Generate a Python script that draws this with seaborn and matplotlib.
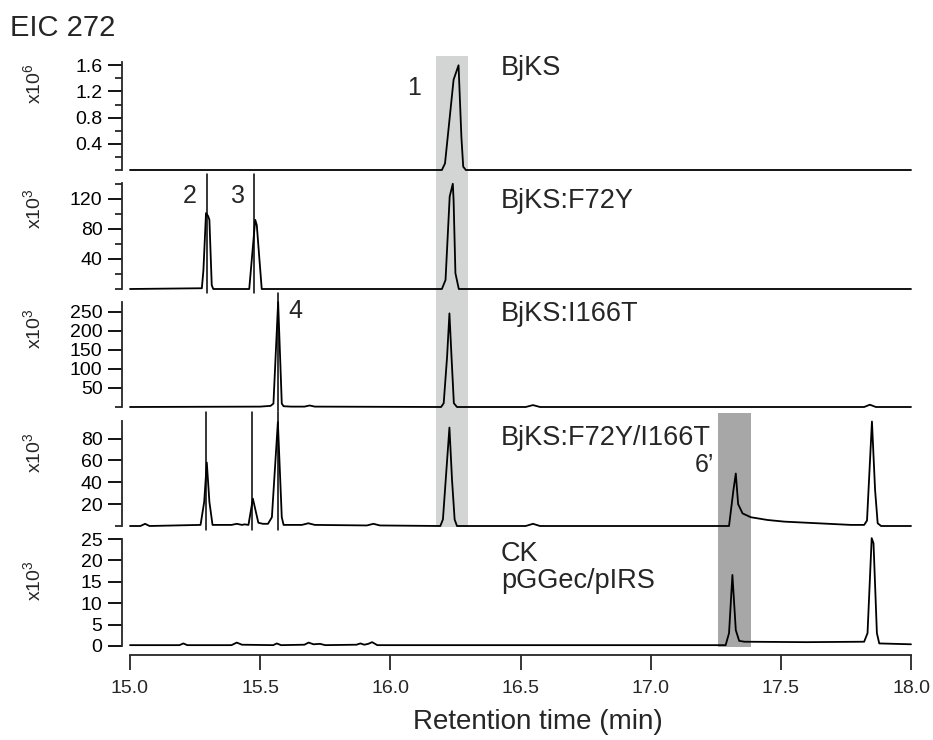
import matplotlib
matplotlib.use('Agg')
import matplotlib.pyplot as plt
import matplotlib.transforms as mtransforms
from matplotlib.patches import Rectangle
from matplotlib.ticker import FixedLocator
import seaborn as sns

# EIC 272 traces, retention time (min) vs intensity
# BjKS, intensity in x10^6
bjks_t = [15.0, 16.19, 16.198, 16.21, 16.243, 16.262, 16.273, 16.28, 16.29, 18.0]
bjks_y = [0, 0, 0.0, 0.1, 1.38, 1.6, 0.5, 0.05, 0, 0]

# BjKS:F72Y, intensity in x10^3
f72y_t = [15.0, 15.276, 15.282, 15.292, 15.300, 15.305, 15.314, 15.32,
          15.458, 15.481, 15.487, 15.506,
          16.198, 16.212, 16.228, 16.24, 16.243, 16.25, 16.263, 18.0]
f72y_y = [0, 1, 25, 101, 97, 92, 5, 0,
          0, 92, 85, 0,
          0, 12, 123, 140, 118, 21, 0, 0]

# BjKS:I166T, intensity in x10^3
i166t_t = [15.0, 15.5, 15.54, 15.551, 15.569, 15.583, 15.59, 15.62, 15.67, 15.69, 15.71,
           16.195, 16.205, 16.218, 16.227, 16.235, 16.244, 16.256,
           16.52, 16.548, 16.575, 17.82, 17.842, 17.865, 18.0]
i166t_y = [0, 1, 3, 9, 276, 9, 2, 1, 1, 4, 1,
           0, 10, 132, 246, 132, 10, 0,
           0, 5, 0, 0, 6, 0, 0]

# BjKS:F72Y/I166T, intensity in x10^3
double_t = [15.0, 15.04, 15.058, 15.075,
            15.271, 15.285, 15.295, 15.305, 15.317,
            15.39, 15.41, 15.43, 15.44,
            15.455, 15.472, 15.493, 15.51, 15.53,
            15.545, 15.568, 15.583, 15.59,
            15.66, 15.685, 15.71, 15.91, 15.935, 15.96,
            16.192, 16.202, 16.227, 16.237, 16.247, 16.256,
            16.52, 16.548, 16.575,
            17.301, 17.318, 17.327, 17.336, 17.353, 17.385, 17.449, 17.513,
            17.641, 17.769, 17.82,
            17.831, 17.85, 17.862, 17.872, 17.885, 18.0]
double_y = [0, 0, 2, 0,
            1, 22, 58, 22, 1,
            1, 2, 1, 1.5,
            1, 25, 3, 2, 2,
            8, 95, 8, 1,
            1, 2.5, 1, 0.5, 2, 0.5,
            0, 6, 90, 42, 6, 0,
            0, 2, 0,
            0, 33, 48, 20, 11.5, 8, 5.5, 4,
            2.5, 1, 1,
            5, 95.5, 33, 2.5, 0, 0]

# CK pGGec/pIRS, intensity in x10^3
ck_t = [15.0, 15.19, 15.205, 15.22, 15.39, 15.41, 15.43, 15.55, 15.564, 15.58,
        15.67, 15.686, 15.705, 15.73, 15.75, 15.87, 15.885, 15.9, 15.915, 15.93, 15.95,
        17.288, 17.301, 17.314, 17.327, 17.34, 17.36, 17.6,
        17.82, 17.833, 17.849, 17.856, 17.869, 17.878, 18.0]
ck_y = [0.2, 0.2, 0.6, 0.2, 0.2, 0.8, 0.3, 0.2, 0.6, 0.2,
        0.3, 0.8, 0.4, 0.5, 0.2, 0.3, 0.6, 0.3, 0.5, 0.9, 0.2,
        0.2, 3, 16.6, 3.7, 1.2, 1.0, 0.9,
        1.0, 3, 25.2, 24, 3, 0.6, 0.4]

panel_names = ['BjKS', 'BjKS:F72Y', 'BjKS:I166T', 'BjKS:F72Y/I166T', 'CK\npGGec/pIRS']
panel_exp = ['6', '3', '3', '3', '3']
panel_ymax = [1.65, 141, 276, 96, 25]
major_ticks = [[0.4, 0.8, 1.2, 1.6], [40, 80, 120], [50, 100, 150, 200, 250],
               [20, 40, 60, 80], [0, 5, 10, 15, 20, 25]]
minor_ticks = [[0, 0.2, 0.6, 1.0, 1.4], [0, 20, 60, 100, 140], [0], [0], []]
# peak marker lines per panel
marker_times = [[], [15.297, 15.477], [15.569], [15.291, 15.469, 15.568], []]
# shaded retention windows
band_light = [16.175, 16.30]
band_dark = [17.26, 17.385]
x_ticks = [15.0, 15.5, 16.0, 16.5, 17.0, 17.5, 18.0]

traces = [(bjks_t, bjks_y), (f72y_t, f72y_y), (i166t_t, i166t_y),
          (double_t, double_y), (ck_t, ck_y)]

sns.set_style('ticks')
plt.rcParams['font.family'] = ['Liberation Sans', 'DejaVu Sans']
plt.rcParams['mathtext.fontset'] = 'custom'
plt.rcParams['mathtext.rm'] = 'Liberation Sans'
plt.rcParams['mathtext.it'] = 'Liberation Sans:italic'

W, H = 933, 740
fig = plt.figure(figsize=(W / 100, H / 100), dpi=100)

# pixel layout of the panels (top, bottom) and labels
rows = [(62, 170), (183, 289), (302, 407), (421, 526), (539, 646)]
exp_tops = [63, 188, 308, 432, 560]
name_base = [75, 208, 321, 445, 561]
lw = 1.3

def fx(x):
    return x / W

def fy(y):
    return 1 - y / H

axes = []
for i, (top, bottom) in enumerate(rows):
    ax = fig.add_axes([fx(130), fy(bottom), fx(911) - fx(130), (bottom - top) / H])
    ax.patch.set_alpha(0)
    t, y = traces[i]
    sns.lineplot(x=t, y=y, ax=ax, color='black', linewidth=lw,
                 estimator=None, sort=False, clip_on=False)
    for m in marker_times[i]:
        ax.axvline(m, ymin=-0.04, ymax=1.085, color='black', lw=1.1, clip_on=False)
    ax.set_xlim(15, 18)
    ax.set_ylim(0, panel_ymax[i])
    ax.set_xlabel('')
    ax.set_ylabel('')
    sns.despine(ax=ax, bottom=(i < 4))
    ax.spines['left'].set_position(('outward', 5.8))
    ax.spines['left'].set_linewidth(lw)
    ax.yaxis.set_major_locator(FixedLocator(major_ticks[i]))
    ax.yaxis.set_minor_locator(FixedLocator(minor_ticks[i]))
    ax.set_yticklabels([('%g' % v) for v in major_ticks[i]])
    ax.tick_params(axis='y', which='major', length=10, width=lw, labelsize=14,
                   pad=4, colors='black')
    ax.tick_params(axis='y', which='minor', length=5, width=lw)
    if i < 4:
        ax.tick_params(axis='x', bottom=False, labelbottom=False)
    else:
        ax.spines['bottom'].set_position(('outward', 6.5))
        ax.spines['bottom'].set_linewidth(lw)
        ax.set_xticks(x_ticks)
        ax.set_xticklabels(['%.1f' % v for v in x_ticks])
        ax.tick_params(axis='x', length=11, width=lw, labelsize=14, pad=7)
    fig.text(fx(33), fy(exp_tops[i]), r'x10$^{%s}$' % panel_exp[i], rotation=90,
             ha='center', va='top', fontsize=14)
    axes.append(ax)

# panel names
for i, name in enumerate(panel_names):
    lines = name.split('\n')
    for k, line in enumerate(lines):
        fig.text(fx(501), fy(name_base[i] + 27 * k), line, ha='left', va='baseline',
                 fontsize=19.5)

# shaded windows spanning several panels
trans = mtransforms.blended_transform_factory(axes[4].transData, fig.transFigure)
fig.add_artist(Rectangle((band_light[0], fy(527)), band_light[1] - band_light[0],
                         (527 - 56) / H, transform=trans, facecolor='#d3d4d4',
                         edgecolor='none', zorder=-1))
fig.add_artist(Rectangle((band_dark[0], fy(647)), band_dark[1] - band_dark[0],
                         (647 - 413) / H, transform=trans, facecolor='#a7a7a7',
                         edgecolor='none', zorder=-1))

# peak numbers
fig.text(fx(414.5), fy(95), '1', ha='center', va='baseline', fontsize=18)
fig.text(fx(190), fy(203), '2', ha='center', va='baseline', fontsize=18)
fig.text(fx(237.5), fy(203), '3', ha='center', va='baseline', fontsize=18)
fig.text(fx(295.5), fy(318), '4', ha='center', va='baseline', fontsize=18)
fig.text(fx(714), fy(472), '6\u2019', ha='right', va='baseline', fontsize=18)

fig.text(fx(10), fy(36), 'EIC 272', ha='left', va='baseline', fontsize=21)
fig.text(fx(538), fy(729), 'Retention time (min)', ha='center', va='baseline', fontsize=20)

fig.savefig('out.png', dpi=100)
